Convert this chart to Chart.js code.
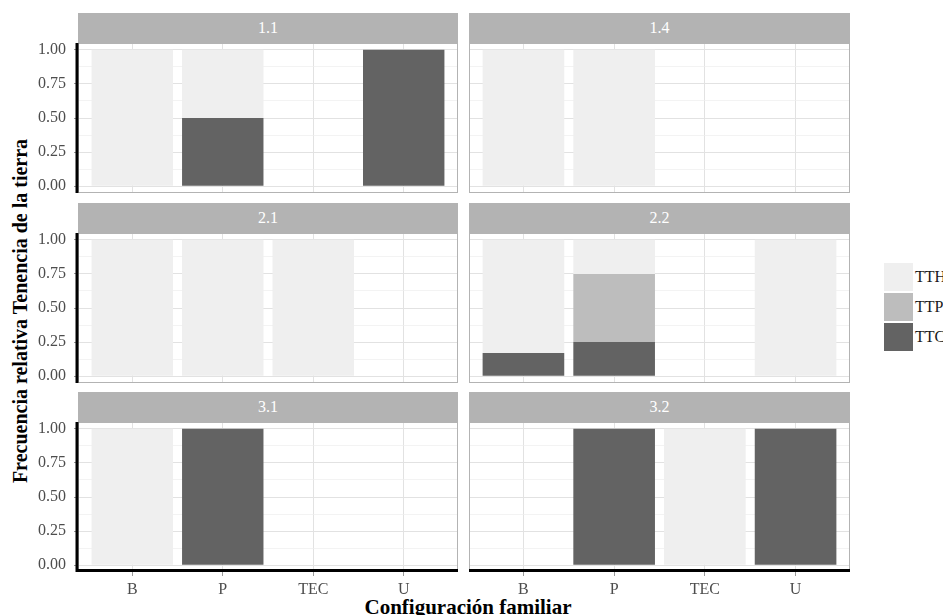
<!DOCTYPE html>
<html>
<head>
<meta charset="utf-8">
<script src="https://cdn.jsdelivr.net/npm/chart.js@4"></script>
<style>
  body { margin: 0; width: 943px; height: 615px; overflow: hidden; background: #fff; position: relative; font-family: 'Liberation Serif', serif; }
  .panel { position: absolute; }
  .strip { position: absolute; height: 30px; line-height: 30px; background: #b3b3b3; color: #fff; font-size: 16px; text-align: center; }
  .ytitle { position: absolute; left: 20px; top: 311px; transform: translate(-50%, -50%) rotate(-90deg); white-space: nowrap; font-weight: bold; font-size: 20px; color: #000; }
  .xtitle { position: absolute; left: 468px; top: 595px; transform: translateX(-50%); white-space: nowrap; font-weight: bold; font-size: 21px; color: #000; }
  .key { position: absolute; left: 884px; width: 29px; height: 28px; }
  .keylab { position: absolute; left: 915px; font-size: 16px; color: #1a1a1a; line-height: 28px; }
</style>
</head>
<body>
<div class="ytitle">Frecuencia relativa Tenencia de la tierra</div>
<div class="xtitle">Configuración familiar</div>
<div id="legend"></div>
<script>
// categories on the x axis and the facet names
const categories = ['B', 'P', 'TEC', 'U'];
const facets = ['1.1', '1.4', '2.1', '2.2', '3.1', '3.2'];
// y breaks (major + minor grid)
const yBreaks = [0, 0.125, 0.25, 0.375, 0.5, 0.625, 0.75, 0.875, 1];

// relative frequency per facet, order B, P, TEC, U
const ttc = [[0, 0.5, 0, 1], [0, 0, 0, 0], [0, 0, 0, 0], [0.17, 0.25, 0, 0], [0, 1, 0, 0], [0, 1, 0, 1]];
const ttp = [[0, 0, 0, 0], [0, 0, 0, 0], [0, 0, 0, 0], [0, 0.5, 0, 0], [0, 0, 0, 0], [0, 0, 0, 0]];
const tth = [[1, 0.5, 0, 0], [1, 1, 0, 0], [1, 1, 1, 0], [0.83, 0.25, 0, 1], [1, 0, 0, 0], [0, 0, 1, 0]];

const tenure = ['TTH', 'TTP', 'TTC'];
const colors = { TTH: '#efefef', TTP: '#bdbdbd', TTC: '#636363' };

// layout of the facet grid
const stripTop = [13, 203, 392];
const panelLeft = [78, 469];
const panelWidth = [380, 381];
const stripH = 30, panelH = 150, xAxisH = 45;

const isMajor = v => Math.abs(v * 4 - Math.round(v * 4)) < 1e-6;
const tickFont = { family: 'Liberation Serif', size: 16 };

// gray panel border + black axis lines
const panelFrame = {
  id: 'panelFrame',
  afterDatasetsDraw(chart, args, opts) {
    const a = chart.chartArea, ctx = chart.ctx;
    ctx.save();
    ctx.strokeStyle = '#b3b3b3';
    ctx.lineWidth = 1;
    ctx.strokeRect(a.left + 0.5, a.top + 0.5, a.right - a.left - 1, a.bottom - a.top - 1);
    ctx.strokeStyle = '#000';
    ctx.lineWidth = 3;
    ctx.beginPath();
    if (opts.left) { ctx.moveTo(a.left - 1, a.top); ctx.lineTo(a.left - 1, a.bottom); }
    if (opts.bottom) { ctx.moveTo(a.left - 2.5, a.bottom - 1.5); ctx.lineTo(a.right, a.bottom - 1.5); }
    ctx.stroke();
    ctx.restore();
  }
};

function toPoints(arr) {
  return arr.map((v, i) => ({ x: i, y: v }));
}

facets.forEach((name, i) => {
  const row = Math.floor(i / 2), col = i % 2;
  const last = row === 2;

  const box = document.createElement('div');
  box.className = 'panel';
  box.style.left = (col === 0 ? 0 : panelLeft[1]) + 'px';
  box.style.top = stripTop[row] + 'px';
  box.style.width = (col === 0 ? panelLeft[0] + panelWidth[0] : panelWidth[1]) + 'px';
  box.style.height = (stripH + panelH + (last ? xAxisH : 8)) + 'px';
  const canvas = document.createElement('canvas');
  box.appendChild(canvas);
  document.body.appendChild(box);

  const strip = document.createElement('div');
  strip.className = 'strip';
  strip.style.left = panelLeft[col] + 'px';
  strip.style.top = stripTop[row] + 'px';
  strip.style.width = panelWidth[col] + 'px';
  strip.textContent = name;
  document.body.appendChild(strip);

  new Chart(canvas, {
    type: 'bar',
    data: {
      datasets: [
        { label: 'TTC', data: toPoints(ttc[i]), backgroundColor: colors.TTC },
        { label: 'TTP', data: toPoints(ttp[i]), backgroundColor: colors.TTP },
        { label: 'TTH', data: toPoints(tth[i]), backgroundColor: colors.TTH }
      ]
    },
    options: {
      responsive: true,
      maintainAspectRatio: false,
      animation: false,
      layout: { padding: { top: stripH, bottom: last ? 0 : 8, left: 0, right: 0 } },
      datasets: { bar: { barPercentage: 0.9, categoryPercentage: 1.0, borderWidth: 0 } },
      plugins: {
        legend: { display: false },
        tooltip: { enabled: false },
        panelFrame: { left: col === 0, bottom: last }
      },
      scales: {
        x: {
          type: 'linear',
          stacked: true,
          offset: false,
          min: -0.6,
          max: 3.6,
          afterBuildTicks: s => { s.ticks = categories.map((c, k) => ({ value: k })); },
          afterFit: s => { s.height = last ? xAxisH : 0; s.paddingLeft = 0; s.paddingRight = 0; },
          border: { display: false },
          grid: { offset: false, color: '#e2e2e2', lineWidth: 1, drawTicks: last, tickLength: 4, tickColor: '#999' },
          ticks: {
            display: last,
            autoSkip: false,
            maxRotation: 0,
            padding: 4,
            color: '#4d4d4d',
            font: tickFont,
            callback: v => categories[v]
          }
        },
        y: {
          stacked: true,
          min: -0.05,
          max: 1.05,
          afterBuildTicks: s => { s.ticks = yBreaks.map(v => ({ value: v })); },
          afterFit: s => { s.width = col === 0 ? panelLeft[0] : 0; s.paddingTop = 0; s.paddingBottom = 0; },
          border: { display: false },
          grid: {
            color: c => isMajor(c.tick.value) ? '#e2e2e2' : '#eeeeee',
            lineWidth: c => isMajor(c.tick.value) ? 1 : 0.7,
            drawTicks: col === 0,
            tickLength: 4,
            tickColor: c => isMajor(c.tick.value) ? '#999' : 'transparent'
          },
          ticks: {
            display: col === 0,
            autoSkip: false,
            padding: 8,
            color: '#4d4d4d',
            font: tickFont,
            callback: v => isMajor(v) ? v.toFixed(2) : ''
          }
        }
      }
    },
    plugins: [panelFrame]
  });
});

// legend (cut by the right edge like the original)
const legend = document.getElementById('legend');
tenure.forEach((t, k) => {
  const key = document.createElement('div');
  key.className = 'key';
  key.style.top = (263 + k * 30) + 'px';
  key.style.background = colors[t];
  legend.appendChild(key);
  const lab = document.createElement('div');
  lab.className = 'keylab';
  lab.style.top = (263 + k * 30) + 'px';
  lab.textContent = t;
  legend.appendChild(lab);
});
</script>
</body>
</html>
